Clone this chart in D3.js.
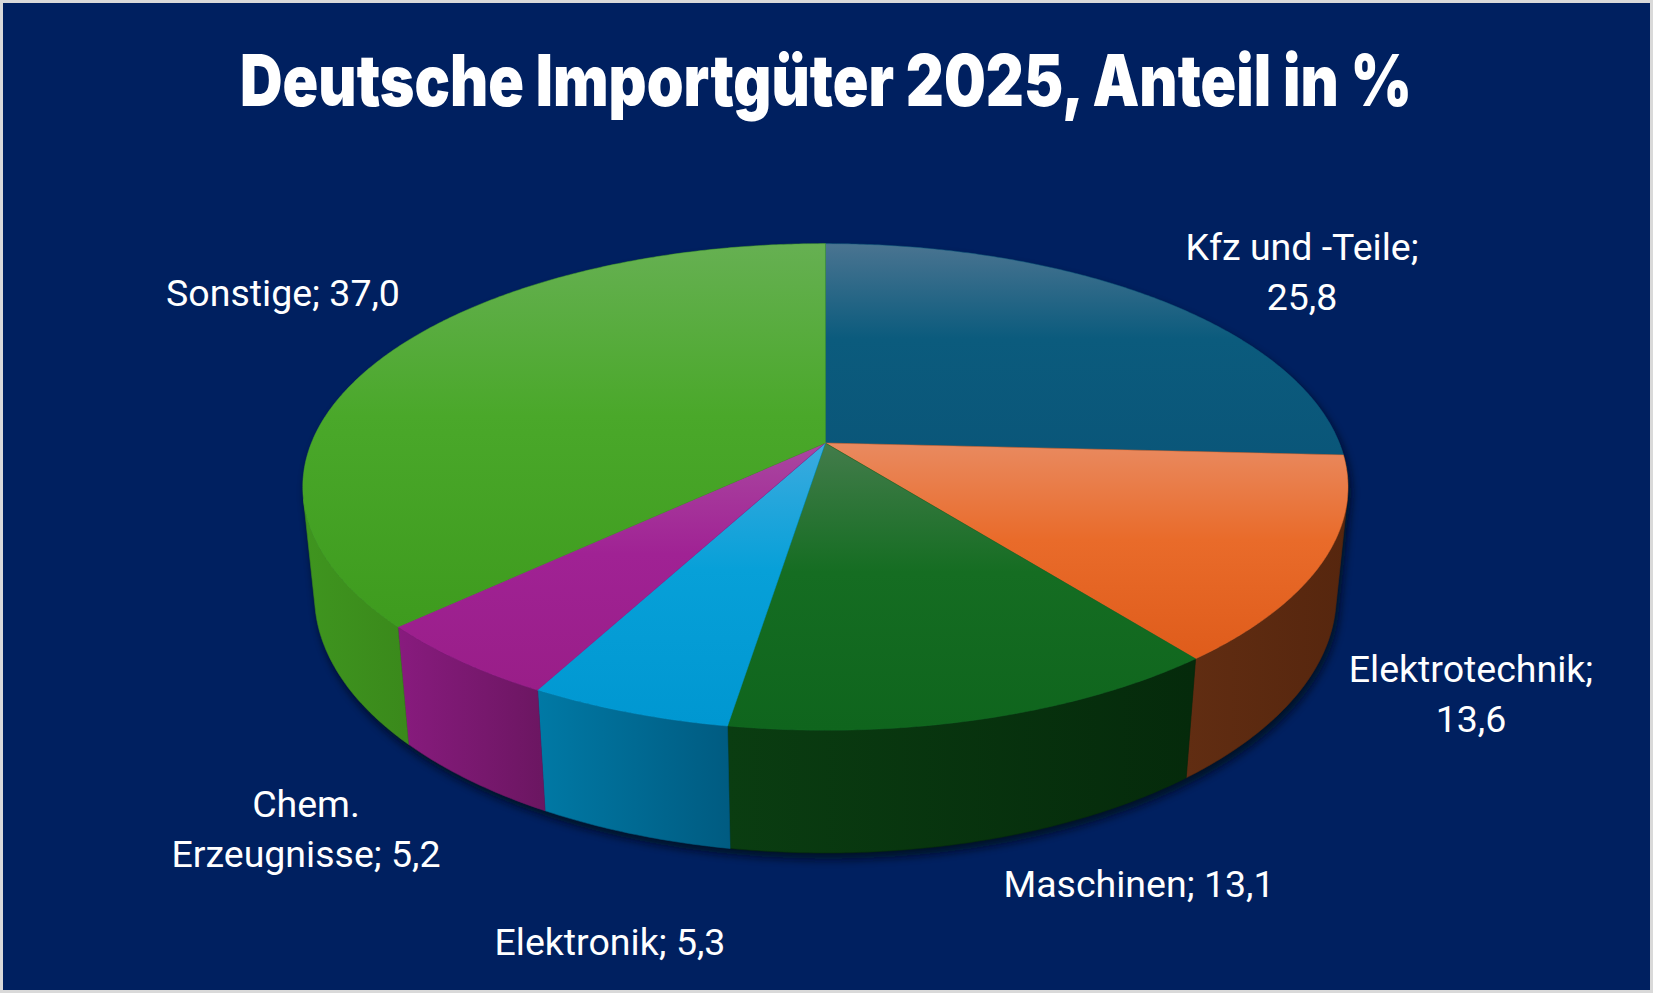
<!DOCTYPE html>
<html>
<head>
<meta charset="utf-8">
<script src="https://cdn.jsdelivr.net/npm/d3@7"></script>
<style>
  body { margin: 0; background: #002060; }
  svg { display: block; }
</style>
</head>
<body>
<div id="chart"></div>
<script>
// data
var categories = ['Kfz und -Teile', 'Elektrotechnik', 'Maschinen', 'Elektronik', 'Chem. Erzeugnisse', 'Sonstige']
var values = [25.8, 13.6, 13.1, 5.3, 5.2, 37.0]
var title = 'Deutsche Importgüter 2025, Anteil in %'

// styles
var topColors = [
	['#4a7491', '#0b5b7d', '#0a5679'],
	['#e98a60', '#e96b2a', '#df5c1b'],
	['#437c4b', '#156d22', '#0f651d'],
	['#3cabdf', '#07a0d8', '#0097d1'],
	['#aa47a0', '#a02294', '#991e88'],
	['#66b052', '#4aa82a', '#3e9b1e']
]
var sideColors = [
	['#0a4c6a', '#083e58'],
	['#612d12', '#56260e'],
	['#0a3d11', '#052a0b'],
	['#0079a5', '#005b81'],
	['#881b7e', '#6b1661'],
	['#3f951f', '#3a891b']
]
// label anchor (centre x, first baseline) and where to break the line
var labelLayout = [
	{x: 1302, y: 260, wrap: 'value'},
	{x: 1471, y: 682, wrap: 'value'},
	{x: 1139, y: 897, wrap: 'none'},
	{x: 610, y: 955, wrap: 'none'},
	{x: 306, y: 817, wrap: 'first'},
	{x: 283, y: 306, wrap: 'none'}
]

var width = 1653
var height = 993

// 3d view of the pie
var cx = 825.4, cy = 443, R = 514
var sinT = 0.458, cosT = Math.sqrt(1 - sinT * sinT)
var dist = 4.92
var thick = 0.24

var xScale = d3.scaleLinear().domain([-1, 1]).range([cx - R, cx + R])
var yScale = d3.scaleLinear().domain([-1, 1]).range([cy + R, cy - R])

function project(a, r, y) {
	var X = r * Math.sin(a), Z = -r * Math.cos(a)
	var up = y * cosT - Z * sinT
	var depth = y * sinT + Z * cosT
	var k = dist / (dist - depth)
	return [xScale(X * k), yScale(up * k)]
}

function arcPoints(a0, a1, y) {
	var n = Math.max(2, Math.ceil(Math.abs(a1 - a0) / (Math.PI / 360)))
	var pts = []
	for (var i = 0; i <= n; i++) {
		pts.push(project(a0 + (a1 - a0) * i / n, 1, y))
	}
	return pts
}

// side is visible where cos(a) < -1/(dist*cos)
var visLim = Math.acos(-1 / (dist * cosT))
var visMin = visLim, visMax = 2 * Math.PI - visLim

var svg = d3.select('#chart').append('svg')
	.attr('width', width)
	.attr('height', height)

var defs = svg.append('defs')

svg.append('rect')
	.attr('x', 1.5).attr('y', 1.5)
	.attr('width', width - 3).attr('height', height - 3)
	.attr('fill', '#002060')
	.attr('stroke', '#d9d9d9')
	.attr('stroke-width', 3)

svg.append('text')
	.attr('x', 826)
	.attr('y', 106)
	.attr('text-anchor', 'middle')
	.attr('font-family', 'Inter, Roboto, sans-serif')
	.attr('font-weight', 900)
	.attr('font-size', 71)
	.attr('textLength', 1172)
	.attr('lengthAdjust', 'spacingAndGlyphs')
	.attr('fill', '#ffffff')
	.text(title)

var pie = d3.pie().sort(null).value(function(d) { return d })
var arcs = pie(values)

var line = d3.line()

// gradients
arcs.forEach(function(d, i) {
	var g = defs.append('linearGradient')
		.attr('id', 'top' + i)
		.attr('x1', 0).attr('y1', 0).attr('x2', 0).attr('y2', 1)
	g.append('stop').attr('offset', 0).attr('stop-color', topColors[i][0])
	g.append('stop').attr('offset', 0.45).attr('stop-color', topColors[i][1])
	g.append('stop').attr('offset', 1).attr('stop-color', topColors[i][2])

	var s = defs.append('linearGradient')
		.attr('id', 'side' + i)
		.attr('x1', 0).attr('y1', 0).attr('x2', 1).attr('y2', 0)
	s.append('stop').attr('offset', 0).attr('stop-color', sideColors[i][0])
	s.append('stop').attr('offset', 1).attr('stop-color', sideColors[i][1])
})

var blur = defs.append('filter')
	.attr('id', 'shadow')
	.attr('x', -0.1).attr('y', -0.1).attr('width', 1.2).attr('height', 1.3)
blur.append('feGaussianBlur').attr('stdDeviation', 4)

// shadow under the pie
var shadow = svg.append('g')
	.attr('filter', 'url(#shadow)')
	.attr('transform', 'translate(3,6)')
	.attr('opacity', 0.8)
shadow.append('path')
	.attr('d', line(arcPoints(0, 2 * Math.PI, 0)) + 'Z')
	.attr('fill', '#000814')
shadow.append('path')
	.attr('d', line(arcPoints(visMin, visMax, 0).concat(arcPoints(visMax, visMin, -thick))) + 'Z')
	.attr('fill', '#000814')

// sides
var sides = svg.append('g')
arcs.forEach(function(d, i) {
	var a0 = Math.max(d.startAngle, visMin)
	var a1 = Math.min(d.endAngle, visMax)
	if (a1 <= a0) return
	var pts = arcPoints(a0, a1, 0).concat(arcPoints(a1, a0, -thick))
	sides.append('path')
		.attr('d', line(pts) + 'Z')
		.attr('fill', 'url(#side' + i + ')')
		.attr('stroke', sideColors[i][1])
		.attr('stroke-width', 0.6)
		.attr('stroke-linejoin', 'round')
})

// top faces
var tops = svg.append('g')
arcs.forEach(function(d, i) {
	var pts = [project(0, 0, 0)].concat(arcPoints(d.startAngle, d.endAngle, 0))
	tops.append('path')
		.attr('d', line(pts) + 'Z')
		.attr('fill', 'url(#top' + i + ')')
		.attr('stroke', topColors[i][1])
		.attr('stroke-width', 0.5)
		.attr('stroke-linejoin', 'round')
})

// labels
var fmt = function(v) { return v.toFixed(1).replace('.', ',') }
var labels = svg.append('g')
	.attr('font-family', 'Roboto, sans-serif')
	.attr('font-size', 37.5)
	.attr('fill', '#ffffff')
	.attr('text-anchor', 'middle')

categories.forEach(function(cat, i) {
	var lay = labelLayout[i]
	var lines
	if (lay.wrap == 'value') {
		lines = [cat + ';', fmt(values[i])]
	} else if (lay.wrap == 'first') {
		var sp = cat.indexOf(' ')
		lines = [cat.slice(0, sp), cat.slice(sp + 1) + '; ' + fmt(values[i])]
	} else {
		lines = [cat + '; ' + fmt(values[i])]
	}
	var t = labels.append('text')
		.attr('x', lay.x)
		.attr('y', lay.y)
	lines.forEach(function(l, j) {
		t.append('tspan')
			.attr('x', lay.x)
			.attr('dy', j == 0 ? 0 : 50)
			.text(l)
	})
})
</script>
</body>
</html>
